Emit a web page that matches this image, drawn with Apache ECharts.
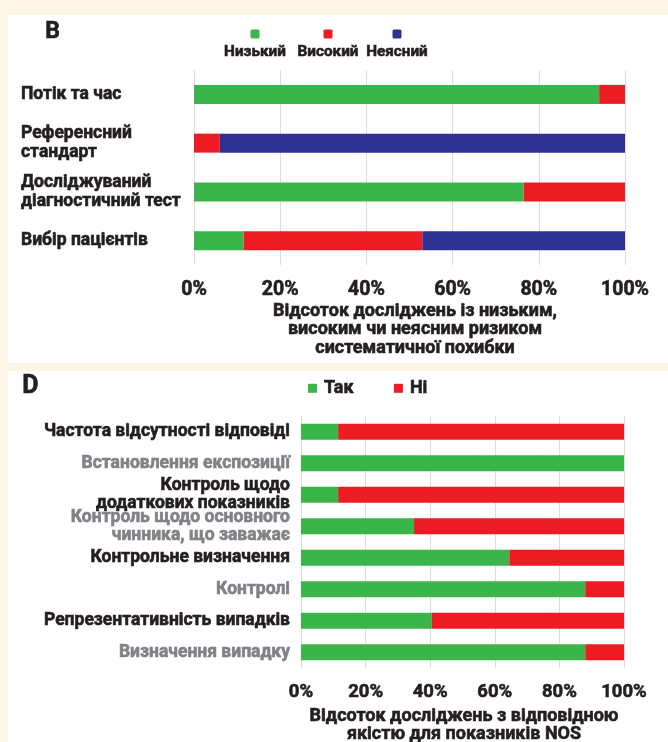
<!DOCTYPE html>
<html>
<head>
<meta charset="utf-8">
<script src="https://cdn.jsdelivr.net/npm/echarts@6/dist/echarts.min.js"></script>
<style>
html,body{margin:0;padding:0;background:#fdf6e8;width:668px;height:742px;overflow:hidden;}
.panel{position:absolute;background:#fff;}
#chart{position:absolute;left:0;top:0;width:668px;height:742px;}
</style>
</head>
<body>
<div class="panel" style="left:8px;top:15px;width:660px;height:348px;"></div>
<div class="panel" style="left:8px;top:371px;width:660px;height:371px;"></div>
<div id="chart"></div>
<script>
// ---- Panel B data ----
const catsB = ["Потік та час", "Референсний\nстандарт", "Досліджуваний\nдіагностичний тест", "Вибір пацієнтів"];
const lowB = [94, 0, 76.5, 11.5];
const highB = [6, 6, 23.5, 41.5];
const unclearB = [0, 94, 0, 47];
const legendB = ["Низький", "Високий", "Неясний"];

// ---- Panel D data ----
const catsD = ["Частота відсутності відповіді", "Встановлення експозиції", "Контроль щодо\nдодаткових показників", "Контроль щодо основного\nчинника, що заважає", "Контрольне визначення", "Контролі", "Репрезентативність випадків", "Визначення випадку"];
const yesD = [11.5, 100, 11.5, 35, 64.5, 88, 40.5, 88];
const noD = [88.5, 0, 88.5, 65, 35.5, 12, 59.5, 12];
const legendD = ["Так", "Ні"];

const tickLabels = ["0%", "20%", "40%", "60%", "80%", "100%"];
const axisNameB = "Відсоток досліджень із низьким,\nвисоким чи неясним ризиком\nсистематичної похибки";
const axisNameD = "Відсоток досліджень з відповідною\nякістю для показників NOS";

const GREEN = "#3ab54a", RED = "#ed1c24", BLUE = "#2e3192";
const FONT = "Roboto";
const DARK = "#231f20", GRAY = "#808285";
const SW = 0.6; // text stroke to mimic heavier weight
const labelColorsD = [DARK, GRAY, DARK, GRAY, DARK, GRAY, DARK, GRAY];
const labelPadB = [[0,0,0,0],[0,0,6,0],[0,0,0,0],[0,0,0,0]];
const labelPadD = [[0,0,0,0],[0,0,0,0],[0,0,7,0],[8,0,0,0],[0,0,0,0],[0,0,0,0],[0,0,0,0],[0,0,0,0]];

const chart = echarts.init(document.getElementById('chart'), null, {renderer: 'canvas'});

function xAx(gi, fs) {
  return {
    type: 'value', gridIndex: gi, min: 0, max: 100, interval: 20,
    axisLine: {show: false}, axisTick: {show: false},
    splitLine: {show: true, lineStyle: {color: '#dcdde0', width: 1}},
    axisLabel: {
      fontFamily: FONT, fontWeight: 'bold', fontSize: fs, color: DARK, margin: 15,
      textBorderColor: DARK, textBorderWidth: SW,
      formatter: v => tickLabels[Math.round(v / 20)]
    }
  };
}

const option = {
  animation: false,
  textStyle: {fontFamily: FONT},
  grid: [
    {left: 194, right: 43, top: 70, height: 195, containLabel: false, outerBoundsMode: 'none'},
    {left: 301, right: 44, top: 416, height: 252, containLabel: false, outerBoundsMode: 'none'}
  ],
  xAxis: [xAx(0, 19.5), xAx(1, 18.5)],
  yAxis: [
    {
      type: 'category', gridIndex: 0, inverse: true,
      data: catsB.map((c, i) => ({value: c, textStyle: {align: 'left', padding: labelPadB[i]}})),
      axisLine: {show: false}, axisTick: {show: false},
      axisLabel: {fontFamily: FONT, fontWeight: 'bold', fontSize: 17.5, lineHeight: 19, color: DARK, align: 'left', margin: 173,
        textBorderColor: DARK, textBorderWidth: SW}
    },
    {
      type: 'category', gridIndex: 1, inverse: true,
      data: catsD.map((c, i) => ({value: c, textStyle: {align: 'right', color: labelColorsD[i], textBorderColor: labelColorsD[i], padding: labelPadD[i]}})),
      axisLine: {show: false}, axisTick: {show: false},
      axisLabel: {fontFamily: FONT, fontWeight: 'bold', fontSize: 17.5, lineHeight: 18, align: 'right', margin: 11,
        textBorderWidth: SW}
    }
  ],
  legend: {
    data: legendD, left: 303, top: 374, itemWidth: 9, itemHeight: 9, itemGap: 40, icon: 'rect',
    textStyle: {fontFamily: FONT, fontWeight: 'bold', fontSize: 18, color: DARK, padding: [0, 0, 0, 2],
      textBorderColor: DARK, textBorderWidth: SW}
  },
  series: [
    {name: legendB[0], type: 'bar', stack: 'b', xAxisIndex: 0, yAxisIndex: 0, data: lowB, barWidth: 19, itemStyle: {color: GREEN}},
    {name: legendB[1], type: 'bar', stack: 'b', xAxisIndex: 0, yAxisIndex: 0, data: highB, barWidth: 19, itemStyle: {color: RED}},
    {name: legendB[2], type: 'bar', stack: 'b', xAxisIndex: 0, yAxisIndex: 0, data: unclearB, barWidth: 19, itemStyle: {color: BLUE}},
    {name: legendD[0], type: 'bar', stack: 'd', xAxisIndex: 1, yAxisIndex: 1, data: yesD, barWidth: 16, itemStyle: {color: GREEN}},
    {name: legendD[1], type: 'bar', stack: 'd', xAxisIndex: 1, yAxisIndex: 1, data: noD, barWidth: 16, itemStyle: {color: RED}}
  ],
  graphic: [
    {type: 'text', left: 45, top: 20, style: {text: 'B', fontFamily: FONT, fontWeight: 'bold', fontSize: 23, fill: DARK, stroke: DARK, lineWidth: SW}},
    {type: 'text', left: 22, top: 374, style: {text: 'D', fontFamily: FONT, fontWeight: 'bold', fontSize: 25, fill: DARK, stroke: DARK, lineWidth: SW}},
    // legend B (icons above labels)
    ...legendB.map((name, i) => {
      const cx = [255, 328, 397][i];
      const col = [GREEN, RED, BLUE][i];
      return {type: 'group', children: [
        {type: 'rect', shape: {x: cx - 4.5, y: 29.5, width: 9, height: 9, r: 1.5}, style: {fill: col}},
        {type: 'text', x: cx, y: 52, style: {text: name, fontFamily: FONT, fontWeight: 'bold', fontSize: 15.3, fill: DARK, stroke: DARK, lineWidth: SW, align: 'center', verticalAlign: 'middle'}}
      ]};
    }),
    {type: 'text', x: 415, y: 302, style: {text: axisNameB, fontFamily: FONT, fontWeight: 'bold', fontSize: 18, lineHeight: 18.5, fill: DARK, stroke: DARK, lineWidth: SW, align: 'center', verticalAlign: 'top'}},
    {type: 'text', x: 464, y: 707, style: {text: axisNameD, fontFamily: FONT, fontWeight: 'bold', fontSize: 18, lineHeight: 18, fill: DARK, stroke: DARK, lineWidth: SW, align: 'center', verticalAlign: 'top'}}
  ]
};
chart.setOption(option);
</script>
</body>
</html>
